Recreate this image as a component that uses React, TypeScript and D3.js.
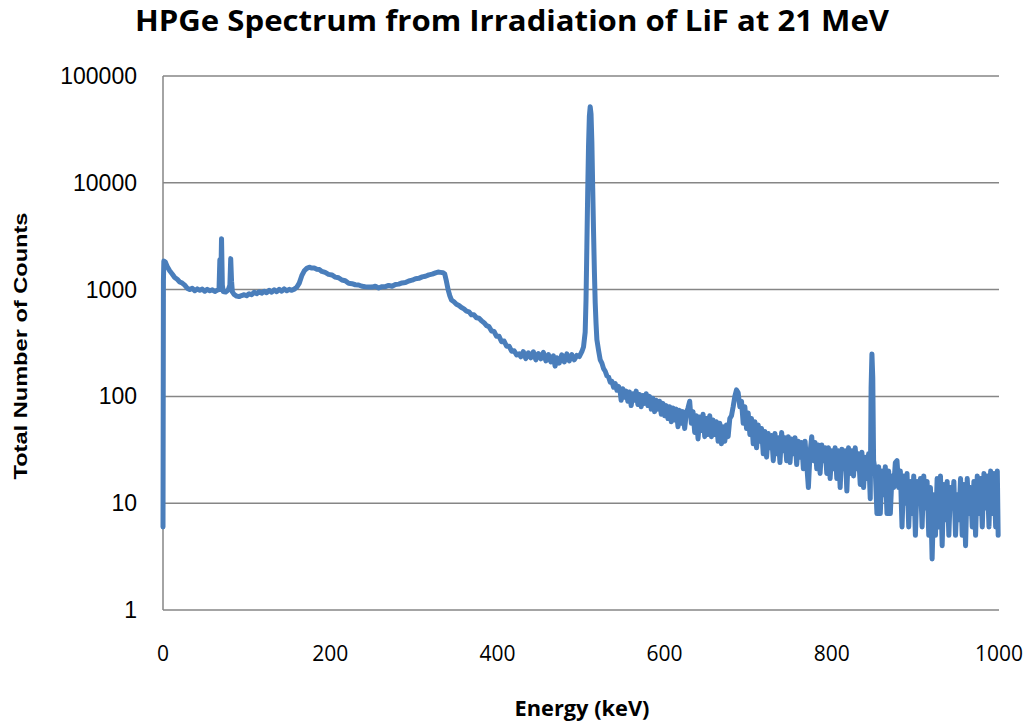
import React from "react";
import * as d3 from "d3";

const titleText = "HPGe Spectrum from Irradiation of LiF at 21 MeV";
const xAxisTitle = "Energy (keV)";
const yAxisTitle = "Total Number of Counts";
const xTicks = [0, 200, 400, 600, 800, 1000];
const yTicks = [1, 10, 100, 1000, 10000, 100000];

// [energy keV, counts]
const lowEnergy: [number, number][] = [
  [0, 6], [0.5, 1200], [1, 1850], [3, 1800], [5, 1650], [8, 1500], [11, 1400], [14, 1300],
  [17, 1250], [20, 1180], [23, 1150], [26, 1100], [29, 1030], [32, 1000], [35, 1030],
  [38, 975], [41, 1015], [44, 985], [47, 1010], [50, 965], [53, 1005], [56, 975], [59, 995],
  [62, 960], [65, 990], [67, 1000], [68, 1900], [69, 1000], [70, 3000], [71, 1100], [72, 960],
  [75, 950], [78, 990], [80, 1100], [81, 1950], [82, 1200], [83, 950], [85, 900], [88, 870],
  [91, 860], [94, 880], [97, 895], [100, 875], [103, 915], [106, 895], [109, 945], [112, 915],
  [115, 955], [118, 925], [121, 965], [124, 935], [127, 985], [130, 945], [133, 995],
  [136, 955], [139, 1005], [142, 965], [145, 1015], [148, 975], [151, 1005], [154, 985],
  [157, 1010],
];

const comptonRegion: [number, number][] = [
  [160, 1050], [163, 1150], [166, 1350], [169, 1500], [172, 1580], [175, 1620], [178, 1590],
  [181, 1590], [184, 1550], [187, 1540], [190, 1480], [194, 1450], [198, 1390], [202, 1370],
  [206, 1310], [210, 1290], [214, 1230], [218, 1210], [222, 1145], [226, 1135], [230, 1110],
  [234, 1105], [238, 1075], [242, 1065], [246, 1060], [250, 1055], [254, 1075], [258, 1035],
  [262, 1065], [266, 1065], [270, 1095], [274, 1075], [278, 1115], [282, 1125], [286, 1155],
  [290, 1165], [294, 1205], [298, 1225], [302, 1265], [306, 1275], [310, 1315], [314, 1335],
  [318, 1375], [322, 1395], [326, 1435], [329, 1460], [332, 1450], [335, 1440], [337, 1400],
  [339, 1200], [341, 1000], [343, 880], [345, 800], [348, 770], [351, 730], [354, 710],
  [357, 680], [360, 660], [363, 630], [366, 620], [369, 580], [372, 580], [375, 545],
  [378, 540], [381, 510], [384, 490], [387, 460], [390, 450], [393, 410], [396, 405],
  [399, 365], [402, 365], [405, 325], [408, 330], [411, 295], [414, 295], [417, 265],
  [420, 268], [423, 245], [426, 250], [428, 235], [431, 262], [434, 226], [437, 256],
  [440, 230], [443, 262], [446, 220], [449, 252], [452, 225], [455, 258], [458, 215],
  [461, 246], [464, 210], [467, 240], [469, 192], [471, 230], [474, 205], [477, 245],
  [480, 210], [483, 250], [486, 215], [489, 246], [492, 220], [495, 242], [498, 236],
  [501, 262],
];

const annihilationPeak: [number, number][] = [
  [503, 290], [505, 400], [506, 800], [507, 2500], [508, 8000], [509, 22000], [510, 42000],
  [511, 51500], [512, 44000], [513, 24000], [514, 9000], [515, 3500], [516, 1500], [517, 750],
  [518, 480], [519, 340], [521, 270], [523, 220],
];

const highEnergy: [number, number][] = [
  [525, 205], [527, 182], [529, 172], [531, 156], [533, 152], [535, 136], [537, 138],
  [539, 122], [541, 132], [543, 114], [545, 124], [547, 108], [548, 92], [550, 118],
  [552, 98], [554, 112], [556, 90], [558, 110], [560, 82], [562, 106], [564, 92], [566, 112],
  [568, 84], [570, 104], [572, 80], [574, 102], [576, 86], [578, 106], [580, 82], [582, 100],
  [584, 76], [586, 96], [588, 72], [590, 92], [592, 76], [594, 90], [596, 68], [598, 86],
  [600, 66], [602, 82], [604, 62], [606, 80], [608, 58], [610, 78], [612, 60], [614, 76],
  [616, 52], [618, 74], [620, 56], [622, 72], [624, 50], [626, 70], [628, 78], [630, 90],
  [632, 56], [634, 72], [636, 46], [638, 66], [640, 40], [642, 64], [644, 48], [646, 68],
  [648, 42], [650, 62], [652, 44], [654, 66], [656, 42], [658, 60], [660, 44], [662, 58],
  [664, 38], [666, 56], [668, 36], [670, 52], [672, 38], [674, 54], [676, 42], [678, 62],
  [680, 66], [682, 80], [684, 100], [686, 115], [688, 108], [690, 80], [692, 90], [694, 56],
  [696, 80], [698, 50], [700, 70], [702, 44], [704, 62], [706, 36], [708, 58], [710, 33],
  [712, 54], [714, 38], [716, 50], [718, 29], [720, 47], [722, 27], [724, 45], [726, 33],
  [728, 43], [730, 25], [732, 45], [734, 29], [736, 41], [738, 24], [740, 46], [742, 31],
  [744, 41], [746, 25], [748, 42], [750, 24], [752, 40], [754, 29], [756, 41], [758, 23],
  [760, 38], [762, 27], [764, 37], [766, 21], [768, 38], [770, 23], [772, 14], [774, 30],
  [776, 42], [778, 25], [780, 37], [782, 21], [784, 35], [786, 19], [788, 35], [790, 25],
  [792, 33], [794, 19], [796, 33], [798, 17], [800, 31], [802, 21], [804, 33], [806, 17],
  [808, 31], [810, 14], [812, 32], [814, 21], [816, 31], [818, 13], [820, 33], [822, 19],
  [824, 31], [826, 18], [828, 33], [830, 21], [832, 29], [834, 15], [836, 30], [838, 14],
  [840, 27], [842, 17], [844, 29], [846, 11], [847, 120], [848, 250], [849, 150], [850, 25],
  [852, 20], [854, 8], [856, 22], [858, 8], [860, 20], [862, 12], [864, 22], [866, 8],
  [868, 20], [870, 8], [872, 18], [874, 14], [876, 24], [878, 25], [880, 14], [882, 20],
  [884, 6], [886, 18], [888, 10], [890, 19], [892, 6], [894, 16], [896, 8], [898, 18],
  [900, 5], [902, 16], [904, 10], [906, 17], [908, 6], [910, 18], [912, 9], [914, 16],
  [916, 5], [918, 14], [920, 3], [922, 12], [924, 5], [926, 17], [928, 6], [930, 18],
  [932, 4], [934, 15], [936, 7], [938, 16], [940, 5], [942, 14], [944, 9], [946, 16],
  [948, 5], [950, 12], [952, 7], [954, 17], [956, 5], [958, 15], [960, 4], [962, 17],
  [964, 8], [966, 14], [968, 6], [970, 16], [972, 5], [974, 18], [976, 8], [978, 17],
  [980, 6], [982, 19], [984, 9], [986, 18], [988, 6], [990, 20], [992, 8], [994, 19],
  [996, 6], [998, 20], [999, 5],
];

const W = 1033;
const H = 723;
const left = 163;
const right = 999;
const top = 76;
const bottom = 610;

export default function App() {
  const data = [...lowEnergy, ...comptonRegion, ...annihilationPeak, ...highEnergy];
  const x = d3.scaleLinear().domain([0, 1000]).range([left, right]);
  const y = d3.scaleLog().domain([1, 100000]).range([bottom, top]);
  const line = d3
    .line<[number, number]>()
    .x((d) => x(d[0]))
    .y((d) => y(d[1]));
  const grid = "#868686";

  return (
    <svg
      width={W}
      height={H}
      style={{ position: "absolute", left: 0, top: 0, background: "#fff" }}
    >
      <rect x={0} y={0} width={W} height={H} fill="#fff" />
      {yTicks.slice(1).map((t) => (
        <line key={t} x1={left} x2={right} y1={y(t)} y2={y(t)} stroke={grid} strokeWidth={1.5} />
      ))}
      <line x1={left} x2={left} y1={top} y2={bottom} stroke={grid} strokeWidth={1.5} />
      <line x1={left} x2={right} y1={bottom} y2={bottom} stroke={grid} strokeWidth={1.5} />
      {yTicks.map((t) => (
        <text
          key={t}
          x={137}
          y={y(t) + 8}
          textAnchor="end"
          fontFamily="'Liberation Sans', Arial, sans-serif"
          fontSize={23}
          fill="#000"
        >
          {t}
        </text>
      ))}
      {xTicks.map((t) => (
        <text
          key={t}
          x={x(t)}
          y={661}
          textAnchor="middle"
          fontFamily="'Open Sans', sans-serif"
          fontSize={21}
          fill="#000"
        >
          {t}
        </text>
      ))}
      <path
        d={line(data) || ""}
        fill="none"
        stroke="#4a7ebb"
        strokeWidth={5}
        strokeLinejoin="round"
        strokeLinecap="round"
      />
      <text
        x={512}
        y={31}
        textAnchor="middle"
        fontFamily="'Open Sans', sans-serif"
        fontWeight="bold"
        fontSize={28}
        textLength={754}
        lengthAdjust="spacingAndGlyphs"
        fill="#000"
      >
        {titleText}
      </text>
      <text
        x={582}
        y={716}
        textAnchor="middle"
        fontFamily="'Open Sans', sans-serif"
        fontWeight="bold"
        fontSize={22}
        textLength={135}
        lengthAdjust="spacingAndGlyphs"
        fill="#000"
      >
        {xAxisTitle}
      </text>
      <text
        transform="translate(27,346) rotate(-90)"
        textAnchor="middle"
        fontFamily="'Liberation Sans', Arial, sans-serif"
        fontWeight="bold"
        fontSize={18.5}
        textLength={267}
        lengthAdjust="spacingAndGlyphs"
        fill="#000"
      >
        {yAxisTitle}
      </text>
    </svg>
  );
}
